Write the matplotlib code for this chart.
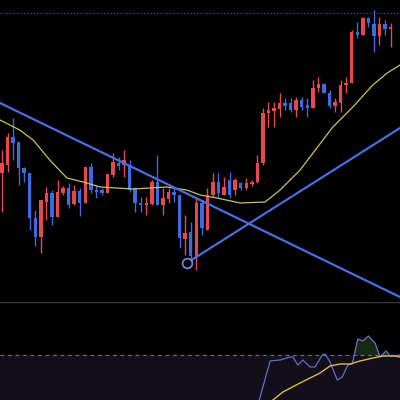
import matplotlib
matplotlib.use("Agg")
import matplotlib.pyplot as plt
import numpy as np

# candles: open, high, low, close
opens  = [127,135,163,158,132,127,82,63,98,107,83,107,112,96,109,97,133,110,110,107,125,137,135,135,
          112,97,95,96,118,95,101,108,105,61,68,43,97,70,105,118,105,120,110,117,112,116,118,137,
          187,189,191,197,197,190,200,195,192,212,216,207,194,197,215,217,268,265,282,276,264,276,271]
highs  = [150,167,182,158,133,127,90,100,113,110,120,114,117,115,112,133,137,115,112,126,147,143,150,140,
          113,103,103,120,145,112,112,112,105,85,78,102,100,112,127,127,123,128,122,118,122,120,145,192,
          198,198,207,202,202,203,203,202,220,223,217,210,202,220,223,270,278,283,283,290,283,280,277]
lows   = [88,128,140,115,118,70,54,47,80,75,83,105,92,95,84,97,107,102,105,107,123,130,123,108,
          88,88,85,95,95,85,97,98,52,45,37,30,65,70,103,103,105,102,105,110,110,114,117,135,
          173,173,183,190,188,183,190,183,192,208,207,192,188,188,207,217,262,265,273,248,255,265,253]
closes = [137,163,157,132,127,82,63,100,107,83,108,112,95,109,97,133,110,108,107,126,138,134,140,110,
          97,95,97,118,95,102,108,105,62,67,44,97,72,105,118,107,113,105,120,112,117,118,137,187,
          190,192,197,194,190,200,193,192,212,216,207,194,198,215,217,268,265,282,277,264,276,271,273]

ma_x = [-0.36,3.2,5.6,8.6,11.7,14.6,17.7,23.6,29.7,33.3,35.7,38.7,42.9,47.4,50.1,53.7,59.6,63.2,66.8,69.4,71.7]
ma_y = [180,170,160,140,122,118,113,111,113,110,105,102,97,98,110,130,173,193,215,227,235]

down_line = ([-0.36, 71.7], [197, 3])
up_line = ([33.3, 71.7], [37, 172])
level = 287

rsi_x = [46.1,48.3,50.1,51.9,52.4,53.3,54.2,55.5,56.4,57.7,58.2,59.1,60.4,61.3,62.3,63.1,64.1,65.0,66.0,67.2,68.1,69.2,69.9,71.7]
rsi_y = [45,67,67.5,69,69,65,67.5,64,64,70,70.5,66.5,57.5,59,65,65.5,78,77,79.5,76,69,72,69.5,70]
rsima_x = [48.8,50.6,53.7,57.3,59.1,60.9,62.7,64.5,66.8,68.6,70.8,71.7]
rsima_y = [47.5,51.5,56,61,64.5,65.5,65.5,67,68.5,69.5,69.5,69]

RED = "#e8474f"
BLUE = "#3d6ae0"

fig = plt.figure(figsize=(4, 4), dpi=100, facecolor="black")
ax = fig.add_axes([0, 0.245, 1, 0.755], facecolor="black")
ax2 = fig.add_axes([0, 0, 1, 0.245], facecolor="black")

for i, (o, h, l, c) in enumerate(zip(opens, highs, lows, closes)):
    col = RED if c >= o else BLUE
    ax.vlines(i, l, h, color=col, lw=1)
    ax.bar(i, max(abs(c - o), 1), bottom=min(o, c), width=0.62, color=col, lw=0)

ax.plot(ma_x, ma_y, color="#c9c35a", lw=0.9)
ax.plot(*down_line, color="#4a6ee0", lw=1.6)
ax.plot(*up_line, color="#4a6ee0", lw=1.6)
ax.plot(up_line[0][0], up_line[1][0], "o", ms=7, mfc="black", mec="#6a86e0", mew=1.3)
ax.axhline(level, color="#4a5ed0", lw=0.8, ls=(0, (1, 2)))
ax.set_xlim(-0.36, 71.7)
ax.set_ylim(-2, 300)
ax.axis("off")

ax2.axhspan(47.5, 70, color="#120e1a")
ax2.axhline(70, color="#6a6a78", lw=0.9, ls=(0, (3, 3)))
ax2.axhline(96.3, color="#3a3a3a", lw=1)
ry = np.array(rsi_y)
ax2.fill_between(rsi_x, 70, ry, where=ry > 70, interpolate=True, color="#142a14")
ax2.plot(rsi_x, rsi_y, color="#6a6ac8", lw=0.9)
ax2.plot(rsima_x, rsima_y, color="#e0b850", lw=1)
ax2.set_xlim(-0.36, 71.7)
ax2.set_ylim(47.5, 96.5)
ax2.axis("off")

fig.savefig("out.png", dpi=100, facecolor="black")
